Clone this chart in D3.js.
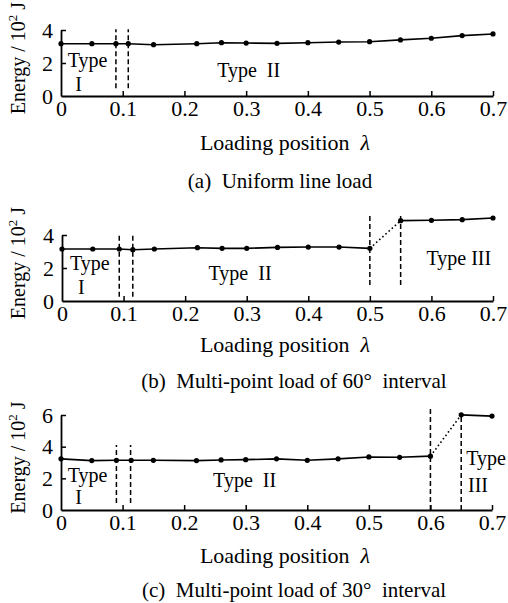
<!DOCTYPE html>
<html>
<head>
<meta charset="utf-8">
<script src="https://cdn.jsdelivr.net/npm/d3@7"></script>
<style>
  body { margin: 0; background: #fff; }
  svg, svg text { font-family: "Liberation Serif", "Times New Roman", serif; fill: #000; white-space: pre; }
</style>
</head>
<body>
<div id="chart"></div>
<script>
//Datos
const lambdaA = [0, 0.05, 0.089, 0.109, 0.15, 0.22, 0.26, 0.30, 0.35, 0.40, 0.45, 0.50, 0.55, 0.60, 0.65, 0.70];
const energyA = [3.17, 3.17, 3.17, 3.17, 3.11, 3.17, 3.23, 3.21, 3.19, 3.23, 3.27, 3.29, 3.40, 3.50, 3.66, 3.76];

const lambdaB = [0, 0.05, 0.093, 0.115, 0.15, 0.22, 0.26, 0.30, 0.35, 0.40, 0.45, 0.50, 0.55, 0.60, 0.65, 0.70];
const energyB = [3.15, 3.15, 3.15, 3.11, 3.15, 3.23, 3.19, 3.19, 3.25, 3.27, 3.27, 3.19, 4.87, 4.89, 4.93, 5.03];

const lambdaC = [0, 0.05, 0.09, 0.114, 0.15, 0.22, 0.26, 0.30, 0.35, 0.40, 0.45, 0.50, 0.55, 0.60, 0.65, 0.70];
const energyC = [3.23, 3.12, 3.14, 3.14, 3.14, 3.12, 3.16, 3.18, 3.23, 3.14, 3.23, 3.35, 3.33, 3.40, 6.01, 5.93];

//Limites entre tipos: [lambda, energia abajo, energia arriba]
const boundsA = [[0.089, 0.47, 4.05], [0.109, 0.47, 4.05]];
const boundsB = [[0.093, 0.26, 4.0], [0.115, 0.26, 4.0], [0.50, 0.97, 5.3], [0.55, 0.97, 5.2]];
const boundsC = [[0.09, 0.44, 4.1], [0.113, 0.44, 4.1], [0.60, 0, 6.45], [0.65, 0, 6.1]];

//Etiquetas: [texto, lambda, energia]
const labelsA = [['Type', 0.011, 1.75], ['I', 0.023, 0.3], ['Type  II', 0.253, 1.14]];
const labelsB = [['Type', 0.013, 1.88], ['I', 0.026, 0.42], ['Type  II', 0.238, 1.27], ['Type III', 0.592, 2.18]];
const labelsC = [['Type', 0.011, 1.77], ['I', 0.023, 0.4], ['Type  II', 0.247, 1.46], ['Type', 0.658, 2.85], ['III', 0.661, 1.14]];

const xTicks = [0, 0.1, 0.2, 0.3, 0.4, 0.5, 0.6, 0.7];
const yTicksAB = [0, 2, 4];
const yTicksC = [0, 2, 4, 6];

const captions = ['(a)  Uniform line load', '(b)  Multi-point load of 60°  interval', '(c)  Multi-point load of 30°  interval'];

const FONT = '"Liberation Serif", "Times New Roman", serif';

const panels = [
    {lam: lambdaA, e: energyA, brk: null, bounds: boundsA, labels: labelsA, yMax: 4, yTicks: yTicksAB,
     left: 61, right: 493, top: 30, bottom: 96, titleY: 150, capY: 188, capX: 280},
    {lam: lambdaB, e: energyB, brk: 12, bounds: boundsB, labels: labelsB, yMax: 4, yTicks: yTicksAB,
     left: 62, right: 493, top: 235, bottom: 301, titleY: 352, capY: 388, capX: 294},
    {lam: lambdaC, e: energyC, brk: 14, bounds: boundsC, labels: labelsC, yMax: 6, yTicks: yTicksC,
     left: 61, right: 492, top: 415, bottom: 510, titleY: 563, capY: 597, capX: 294}
];

let svg = d3.select('#chart')
    .append('svg')
    .attr('width', 508)
    .attr('height', 603)
    .attr('font-family', FONT);

panels.forEach(function(p, i) {
    let g = svg.append('g');

    let x = d3.scaleLinear().domain([0, 0.7]).range([p.left, p.right]);
    let y = d3.scaleLinear().domain([0, p.yMax]).range([p.bottom, p.top]);

    //Ejes
    let xAxis = g.append('g')
        .attr('transform', 'translate(0,' + p.bottom + ')')
        .call(d3.axisBottom(x).tickValues(xTicks).tickSizeInner(-5).tickSizeOuter(0).tickPadding(4)
            .tickFormat(function(d) { return d === 0 ? '0' : d3.format('.1f')(d); }));
    let yAxis = g.append('g')
        .attr('transform', 'translate(' + p.left + ',0)')
        .call(d3.axisLeft(y).tickValues(p.yTicks).tickSizeInner(-5).tickSizeOuter(0).tickPadding(8)
            .tickFormat(d3.format('d')));

    [xAxis, yAxis].forEach(function(a) {
        a.attr('font-family', FONT).attr('font-size', 22);
        a.select('.domain').attr('stroke', '#000').attr('stroke-width', 1.8);
        a.selectAll('.tick line').attr('stroke', '#000').attr('stroke-width', 1.5);
    });
    xAxis.selectAll('.tick').filter(function(d) { return d === 0; }).select('line').remove();
    yAxis.selectAll('.tick').filter(function(d) { return d === 0; }).select('line').remove();

    //Limites discontinuos
    g.selectAll('.bound')
        .data(p.bounds)
        .enter()
        .append('line')
        .attr('x1', function(d) { return x(d[0]); })
        .attr('x2', function(d) { return x(d[0]); })
        .attr('y1', function(d) { return y(d[1]); })
        .attr('y2', function(d) { return y(d[2]); })
        .attr('stroke', '#000')
        .attr('stroke-width', 1.5)
        .attr('stroke-dasharray', '5,3');

    let pts = p.lam.map(function(d, k) { return [d, p.e[k]]; });
    let line = d3.line().x(function(d) { return x(d[0]); }).y(function(d) { return y(d[1]); });

    let solids = p.brk === null ? [pts] : [pts.slice(0, p.brk), pts.slice(p.brk)];
    solids.forEach(function(s) {
        g.append('path')
            .datum(s)
            .attr('d', line)
            .attr('fill', 'none')
            .attr('stroke', '#000')
            .attr('stroke-width', 1.6);
    });
    if (p.brk !== null) {
        g.append('path')
            .datum(pts.slice(p.brk - 1, p.brk + 1))
            .attr('d', line)
            .attr('fill', 'none')
            .attr('stroke', '#000')
            .attr('stroke-width', 1.6)
            .attr('stroke-dasharray', '1.6,2.6');
    }

    g.selectAll('.dot')
        .data(pts)
        .enter()
        .append('circle')
        .attr('cx', function(d) { return x(d[0]); })
        .attr('cy', function(d) { return y(d[1]); })
        .attr('r', 2.6)
        .attr('fill', '#000');

    //Etiquetas de tipo
    g.selectAll('.lbl')
        .data(p.labels)
        .enter()
        .append('text')
        .attr('x', function(d) { return x(d[1]); })
        .attr('y', function(d) { return y(d[2]); })
        .attr('font-size', 20)
        .text(function(d) { return d[0]; });

    //Titulos
    let yt = g.append('text')
        .attr('transform', 'translate(25,' + ((p.top + p.bottom) / 2 - 5) + ') rotate(-90)')
        .attr('text-anchor', 'middle')
        .attr('font-size', 20);
    yt.append('tspan').text('Energy / 10');
    yt.append('tspan').attr('dy', -8).attr('font-size', 13).text('2');
    yt.append('tspan').attr('dy', 8).text(' J');

    let xt = g.append('text')
        .attr('x', 285)
        .attr('y', p.titleY)
        .attr('text-anchor', 'middle')
        .attr('font-size', 22);
    xt.append('tspan').text('Loading position  ');
    xt.append('tspan').attr('font-style', 'italic').text('λ');

    g.append('text')
        .attr('x', p.capX)
        .attr('y', p.capY)
        .attr('text-anchor', 'middle')
        .attr('font-size', 21)
        .text(captions[i]);
});
</script>
</body>
</html>
